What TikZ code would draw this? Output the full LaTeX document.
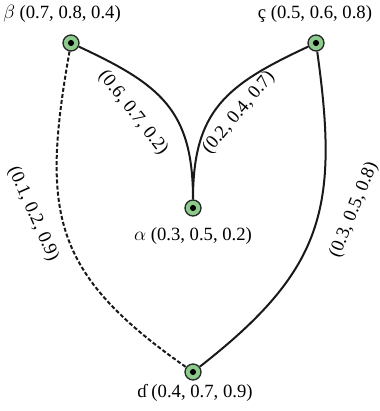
\documentclass[tikz,border=0pt]{standalone}
\usepackage{fontspec}
\setmainfont{Liberation Serif}
\usetikzlibrary{arrows.meta}

\begin{document}
\begin{tikzpicture}[x=0.75pt,y=0.75pt,font=\fontsize{14}{16}\selectfont,
  vtx/.style={circle,draw=black!85,line width=1pt,fill=green!55!black!45!white,minimum size=12pt,inner sep=0pt,
    path picture={\fill[black] (path picture bounding box.center) circle (2.3pt);}},
  ed/.style={line width=1.5pt,black!90},
  lbl/.style={inner sep=1pt}]
  \useasboundingbox (0,0) rectangle (379,411);
  \node[vtx] (b) at (71,368) {};
  \node[vtx] (c) at (316,368) {};
  \node[vtx] (a) at (193,203) {};
  \node[vtx] (d) at (193,39) {};
  \node[lbl] (lb) at (62,397) {$\beta$ (0.7, 0.8, 0.4)};
  \node[lbl] (lc) at (315,397) {ç (0.5, 0.6, 0.8)};
  \node[lbl] (la) at (193,175) {$\alpha$ (0.3, 0.5, 0.2)};
  \node[lbl] (ld) at (195,18) {ɗ (0.4, 0.7, 0.9)};
  \draw[ed] (b) to[out=-25,in=90,looseness=1.2] (a);
  \draw[ed] (c) to[out=205,in=90,looseness=1.2] (a);
  \draw[ed,dash pattern=on 3pt off 1.6pt] (b) to[out=-100,in=145,looseness=1.25] (d);
  \draw[ed] (c) to[out=-82,in=38,looseness=1.2] (d);
  \node[lbl,rotate=-52] (e1) at (133,298) {(0.6, 0.7, 0.2)};
  \node[lbl,rotate=50] (e2) at (239,298) {(0.2, 0.4, 0.7)};
  \node[lbl,rotate=-66] (e3) at (33,197) {(0.1, 0.2, 0.9)};
  \node[lbl,rotate=68] (e4) at (354,201) {(0.3, 0.5, 0.8)};
\end{tikzpicture}
\end{document}
